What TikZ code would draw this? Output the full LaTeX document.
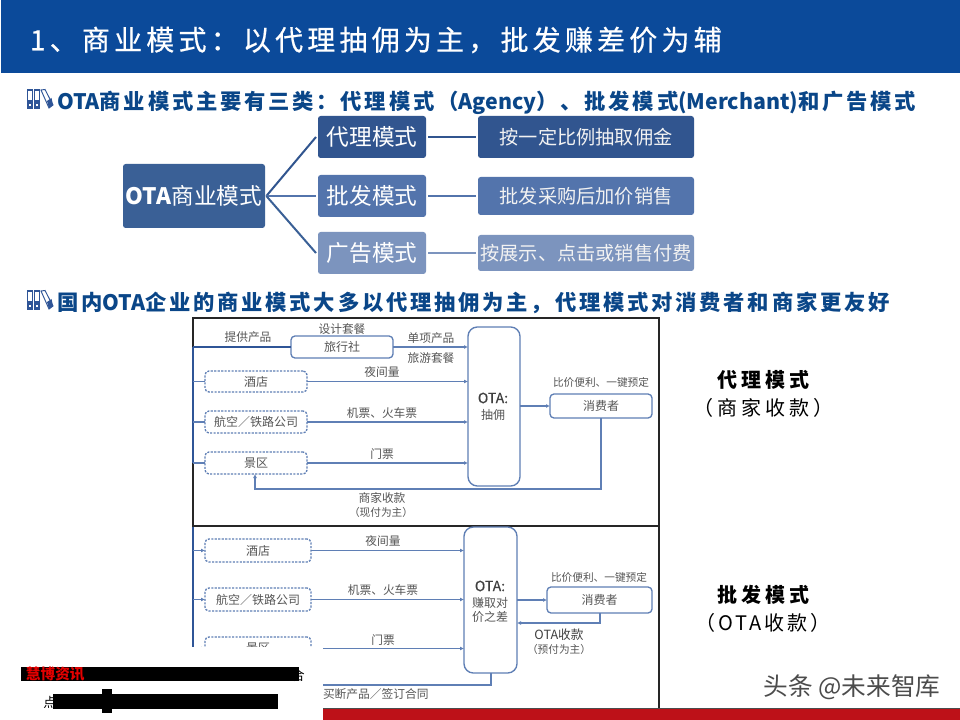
\documentclass[tikz,border=0pt]{standalone}
\usepackage{fontspec}
\setmainfont{Noto Sans CJK SC}
\usetikzlibrary{arrows.meta}
\definecolor{band}{HTML}{0B4A9A}
\definecolor{head}{HTML}{0A4688}
\definecolor{lineb}{HTML}{5F7FB5}
\definecolor{linea}{HTML}{2F5597}
\definecolor{coA}{HTML}{31558F}
\definecolor{coB}{HTML}{5374AC}
\definecolor{coC}{HTML}{7C94BE}
\definecolor{coM}{HTML}{3A6096}
\definecolor{redbar}{HTML}{BD1118}
\definecolor{txt}{HTML}{555555}
\newcommand{\spaced}[2]{{\addfontfeature{LetterSpace=#1}#2}}
\newcommand{\latn}[1]{{\addfontfeature{LetterSpace=0}#1}}
\newcommand{\bx}[7]{%
  \pgfmathsetmacro{\bxw}{(#4-#2)*0.75}%
  \pgfmathsetmacro{\bxh}{(#5-#3)*0.75}%
  \node[#6,minimum width=\bxw pt,minimum height=\bxh pt] (#1) at ({(#2+#4)/2},{(#3+#5)/2}) {#7};}
\newcommand{\bookicon}[2]{%
  \begin{scope}[shift={(#1,#2)}]
    \fill[linea] (0,0) rectangle (6,20);
    \fill[linea] (7,0) rectangle (13,20);
    \fill[white] (1.2,2) rectangle (4.8,11);
    \fill[white] (8.2,2) rectangle (11.8,11);
    \fill[white] (2,15) rectangle (4,17);
    \fill[white] (9,15) rectangle (11,17);
    \draw[linea,line width=.7pt] (14,1) -- (18,0.5) -- (26,16) -- (22,19) -- cycle;
    \fill[linea] (20,12) -- (24.5,9) -- (26,16) -- (22,19) -- cycle;
  \end{scope}}
\tikzset{
  x=0.75pt,y=-0.75pt,
  every node/.style={inner sep=0pt,outer sep=0pt,align=center},
  mbox/.style={rounded corners=2pt,text=white,font=\fontsize{17}{19}\selectfont},
  rbox/.style={rounded corners=2pt,text=white!90!gray,font=\fontsize{14.4}{16}\selectfont},
  tl/.style={text=txt,font=\fontsize{8.8}{10}\selectfont},
  tn/.style={text=txt,font=\fontsize{9}{11}\selectfont},
  tsm/.style={text=txt,font=\fontsize{8}{9}\selectfont},
  tsn/.style={text=txt,font=\fontsize{8}{9}\selectfont},
  totab/.style={text=black!75,font=\fontsize{10.5}{12}\selectfont\addfontfeature{FakeBold=0.4}},
  solidb/.style={draw=lineb,line width=1pt,rounded corners=3pt,fill=white},
  dashb/.style={draw=lineb,line width=1pt,dash pattern=on 1.6pt off 1pt,rounded corners=3pt,fill=white},
  otab/.style={draw=lineb,line width=1pt,rounded corners=7pt,fill=white},
  conn/.style={line width=1pt,draw=lineb},
  arr/.style={line width=1pt,draw=lineb,-{Latex[length=3pt,width=3pt]}},
  thickline/.style={line width=1.5pt,draw=linea},
  tree/.style={line width=1.5pt},
  heading/.style={anchor=west,text=head,font=\fontsize{16}{18}\bfseries\selectfont},
  side/.style={text=black,font=\fontsize{15}{17}\selectfont},
  sideb/.style={text=black,font=\fontsize{15}{17}\bfseries\selectfont},
}
\begin{document}
\begin{tikzpicture}
\useasboundingbox (0,0) rectangle (960,720);
\fill[white] (0,0) rectangle (960,720);
% title band
\fill[band] (1,0) rectangle (960,73);
\node[anchor=west,text=white,font=\fontsize{21}{24}\selectfont\addfontfeature{FakeBold=0.6}] (title) at (30,40)
  {\spaced{15}{1、商业模式：以代理抽佣为主，批发赚差价为辅}};
% headings
\bookicon{27}{89}
\node[heading] (h1) at (57,102.5) {\spaced{13}{\latn{OTA}商业模式主要有三类：代理模式（\latn{Agency}）、批发模式\latn{(Merchant)}和广告模式}};
\bookicon{27}{290}
\node[heading] (h2) at (57,303) {\spaced{13}{国内\latn{OTA}企业的商业模式大多以代理抽佣为主，代理模式对消费者和商家更友好}};
% tree
\bx{root}{123}{164}{265}{228}{mbox,fill=coM}{\textbf{OTA}商业模式}
\bx{m1}{318}{116}{426}{158}{mbox,fill=coA}{代理模式}
\bx{m2}{318}{175}{426}{217}{mbox,fill=coB}{批发模式}
\bx{m3}{318}{232}{426}{274}{mbox,fill=coC}{广告模式}
\bx{r1}{478}{116}{694}{158}{rbox,fill=coA}{按一定比例抽取佣金}
\bx{r2}{478}{177}{694}{215}{rbox,fill=coB}{批发采购后加价销售}
\bx{r3}{478}{235}{694}{271}{rbox,fill=coC}{按展示、点击或销售付费}
\draw[tree,coA] ([xshift=1pt]root.east) -- ([xshift=-1.5pt]m1.west);
\draw[tree,coB] ([xshift=1pt]root.east) -- ([xshift=-1.5pt]m2.west);
\draw[tree,coM] ([xshift=1pt]root.east) -- ([xshift=-1.5pt]m3.west);
\draw[tree,coA] ([xshift=1.5pt]m1.east) -- ([xshift=-1.5pt]r1.west);
\draw[tree,coB] ([xshift=1.5pt]m2.east) -- ([xshift=-1.5pt]r2.west);
\draw[tree,coC] ([xshift=1.5pt]m3.east) -- ([xshift=-1.5pt]r3.west);
% frames
\draw[black!85,line width=.9pt] (193,318) rectangle (659,526);
\draw[black!85,line width=.9pt] (659,526) -- (659,708);
% panel 1
\coordinate (a0) at (193,347);
\coordinate (a1) at (193,463);
\draw[thickline] (a0) -- (a1);
\bx{ts1}{291}{336}{393}{358}{solidb,tn}{旅行社}
\bx{ho1}{205}{371}{307}{392}{dashb,tn}{酒店}
\bx{ai1}{205}{411}{307}{433}{dashb,tn}{航空／铁路公司}
\bx{sc1}{205}{452}{307}{474}{dashb,tn}{景区}
\bx{ota1}{468}{327}{520}{486}{otab}{}
\bx{cu1}{550}{394}{652}{418}{solidb,tn}{消费者}
\draw[thickline] (a0) -- (ts1.west);
\foreach \n in {ho1,ai1,sc1} \draw[conn] (a1 |- \n.west) -- (\n.west);
\draw[arr] (ts1.east) -- (ota1.west |- ts1.east);
\foreach \n in {ho1,ai1,sc1} \draw[arr] (\n.east) -- (ota1.west |- \n.east);
\draw[arr] (ota1.east |- cu1.west) -- (cu1.west);
\coordinate (p1) at (601,489);
\coordinate (p2) at (255,489);
\draw[arr] (cu1.south -| p1) -- (p1) -- (p2) -- (sc1.south -| p2);
\node[tl] (l01) at (248,337) {提供产品};
\node[tl] (l02) at (342,329) {设计套餐};
\node[tl] (l03) at (431,338) {单项产品};
\node[tl] (l04) at (431,358) {旅游套餐};
\node[tl] (l05) at (382,372) {夜间量};
\node[tl] (l06) at (382,413) {机票、火车票};
\node[tl] (l07) at (382,454) {门票};
\node[tl] (l08) at (382,498) {商家收款};
\node[tsm] (l09) at (381,512) {（现付为主）};
\node[tsn] (l10) at (601,382) {比价便利、一键预定};
\node[totab] (l11) at (493,398) {OTA:};
\node[tn] (l12) at (493,415) {抽佣};
% panel 2
\coordinate (b0) at (193,527);
\coordinate (b1) at (193,700);
\draw[thickline] (b0) -- (b1);
\bx{ho2}{205}{539}{311}{562}{dashb,tn}{酒店}
\bx{ai2}{205}{588}{311}{611}{dashb,tn}{航空／铁路公司}
\bx{sc2}{205}{637}{311}{660}{dashb,tn}{景区}
\bx{ota2}{464}{527}{517}{673}{otab}{}
\bx{cu2}{547}{587}{652}{613}{solidb,tn}{消费者}
\foreach \n in {ho2,ai2,sc2} \draw[arr] (b1 |- \n.west) -- (\n.west);
\foreach \n in {ho2,ai2} \draw[arr] (\n.east) -- (ota2.west |- \n.east);
\draw[arr] (sc2.east) -- (ota2.west |- sc2.east);
\draw[arr] (ota2.east |- cu2.west) -- (cu2.west);
\coordinate (q1) at (600,623);
\draw[arr] (cu2.south -| q1) -- (q1) -- (ota2.east |- q1);
\coordinate (q2) at (491,685);
\coordinate (q3) at (205,685);
\draw[conn] (ota2.south -| q2) -- (q2) -- (q3);
\node[tl] (l21) at (383,541) {夜间量};
\node[tl] (l22) at (383,590) {机票、火车票};
\node[tl] (l23) at (383,640) {门票};
\node[tl,anchor=west] (l24) at (323,694) {买断产品／签订合同};
\node[totab] (l25) at (490,586) {OTA:};
\node[tn] (l26) at (490,610) {赚取对\\[-1pt]价之差};
\node[tsn] (l27) at (599,577) {比价便利、一键预定};
\node[text=black!75,font=\fontsize{9.5}{11}\selectfont] (l28) at (559,635) {OTA收款};
\node[tsm] (l29) at (559,649) {（预付为主）};
% side labels
\node[sideb] (s1) at (763,380) {\spaced{20}{代理模式}};
\node[side] (s2) at (763,408) {\spaced{20}{（商家收款）}};
\node[sideb] (s3) at (763,595) {\spaced{20}{批发模式}};
\node[side] (s4) at (763,623) {\spaced{15}{（OTA收款）}};
% cover and bottom
\fill[white] (0,647) rectangle (323,720);
\fill[redbar] (323,708) rectangle (960,720);
\draw[black!70,line width=.5pt] (323,708) -- (960,708);
\node[text=black!70,font=\fontsize{18.5}{20}\selectfont] (wm) at (852,687) {头条 @未来智库};
% redacted source lines
\node[text=black,font=\fontsize{10}{12}\selectfont] (f1) at (298,675) {合};
\node[text=black,font=\fontsize{10}{12}\selectfont] (f2) at (50,702) {点};
\fill[black] (21,667) rectangle (299,681);
\fill[black] (53,694) rectangle (278,709);
\fill[black] (102,689) rectangle (112,713);
\node[text=red!90!black,font=\fontsize{11}{13}\bfseries\selectfont,anchor=west] (f3) at (26,674) {慧博资讯};
\end{tikzpicture}
\end{document}
